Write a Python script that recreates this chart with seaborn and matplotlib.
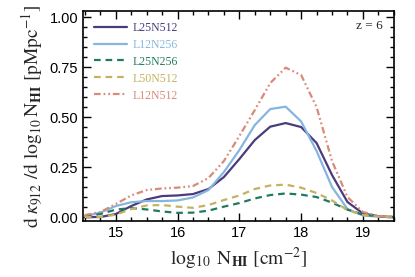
import numpy as np
import pandas as pd
import matplotlib
matplotlib.use("Agg")
import matplotlib.pyplot as plt
from matplotlib.ticker import MultipleLocator
import seaborn as sns

log_nhi = [14.5, 14.75, 15.0, 15.25, 15.5, 15.75, 16.0, 16.25, 16.5, 16.75, 17.0,
           17.25, 17.5, 17.75, 18.0, 18.25, 18.5, 18.75, 19.0, 19.25, 19.5]

L25N512 = [0.0, 0.0, 0.015, 0.055, 0.088, 0.105, 0.108, 0.115, 0.14, 0.20, 0.29,
           0.385, 0.452, 0.47, 0.45, 0.37, 0.21, 0.075, 0.018, 0.004, 0.0]
L12N256 = [0.005, 0.022, 0.055, 0.074, 0.08, 0.08, 0.083, 0.098, 0.135, 0.225, 0.335,
           0.46, 0.54, 0.552, 0.478, 0.33, 0.15, 0.04, 0.008, 0.002, 0.0]
L25N256 = [0.005, 0.015, 0.037, 0.045, 0.038, 0.028, 0.021, 0.022, 0.032, 0.052, 0.07,
           0.093, 0.11, 0.118, 0.112, 0.10, 0.072, 0.037, 0.012, 0.004, 0.0]
L50N512 = [0.0, 0.0, 0.012, 0.04, 0.058, 0.06, 0.052, 0.046, 0.06, 0.085, 0.108,
           0.14, 0.158, 0.162, 0.147, 0.12, 0.083, 0.035, 0.01, 0.003, 0.0]
L12N512 = [0.01, 0.025, 0.065, 0.108, 0.135, 0.143, 0.147, 0.155, 0.195, 0.28, 0.405,
           0.535, 0.67, 0.747, 0.71, 0.55, 0.28, 0.10, 0.025, 0.006, 0.0]

runs = ["L25N512", "L12N256", "L25N256", "L50N512", "L12N512"]
values = [L25N512, L12N256, L25N256, L50N512, L12N512]
colors = ["#4a3b7c", "#86b6e0", "#207a62", "#c4b262", "#d98a78"]
styles = ["-", "-", (0, (3, 2.2)), (0, (3, 2.2)), (0, (3, 1.3, 0.8, 1.3, 0.8, 1.3))]

df = pd.DataFrame({
    "x": np.tile(log_nhi, len(runs)),
    "y": np.concatenate(values),
    "run": np.repeat(runs, len(log_nhi)),
})

sns.set_style("ticks")
plt.rcParams["font.family"] = ["Liberation Sans", "DejaVu Sans"]
plt.rcParams["mathtext.fontset"] = "stix"

fig = plt.figure(figsize=(4.15, 2.77), dpi=100)
ax = fig.add_axes([0.2, 0.202, 0.749, 0.758])

for run, c, ls in zip(runs, colors, styles):
    sns.lineplot(data=df[df["run"] == run], x="x", y="y", ax=ax, color=c,
                 linestyle=ls, linewidth=1.6, label=run)

ax.set_xlim(14.47, 19.5)
ax.set_ylim(-0.02, 1.03)
ax.xaxis.set_major_locator(MultipleLocator(1))
ax.xaxis.set_minor_locator(MultipleLocator(0.25))
ax.yaxis.set_major_locator(MultipleLocator(0.25))
ax.yaxis.set_minor_locator(MultipleLocator(0.05))
ax.set_yticks([0, 0.25, 0.5, 0.75, 1.0])
ax.set_yticklabels(["0.00", "0.25", "0.50", "0.75", "1.00"])
ax.tick_params(which="both", direction="in", top=True, right=True, colors="black",
               labelsize=10.5, width=1)
ax.tick_params(which="major", length=6)
ax.tick_params(which="minor", length=3)
for s in ax.spines.values():
    s.set_linewidth(1.2)
    s.set_color("black")

ax.set_xlabel(r"$\log_{10}\ \mathrm{N}_{\mathbf{HI}}\ [\mathrm{cm}^{-2}]$", fontsize=14, labelpad=4)
ax.set_ylabel(r"$\mathrm{d}\ \kappa_{912}\ /\mathrm{d}\ \log_{10}\mathrm{N}_{\mathbf{HI}}\ [\mathrm{pMpc}^{-1}]$",
              fontsize=14, labelpad=3)

leg = ax.legend(loc="upper left", frameon=False, handlelength=2.8,
                handletextpad=0.5, labelspacing=0.42, borderaxespad=0.3,
                borderpad=0.6, prop={"family": "Liberation Serif", "size": 8.5})
for txt, c in zip(leg.get_texts(), colors):
    txt.set_color(c)

ax.text(0.965, 0.93, "z = 6", transform=ax.transAxes, ha="right", va="center",
        fontsize=9.5, family="Liberation Serif")

fig.savefig("out.png", dpi=100)
